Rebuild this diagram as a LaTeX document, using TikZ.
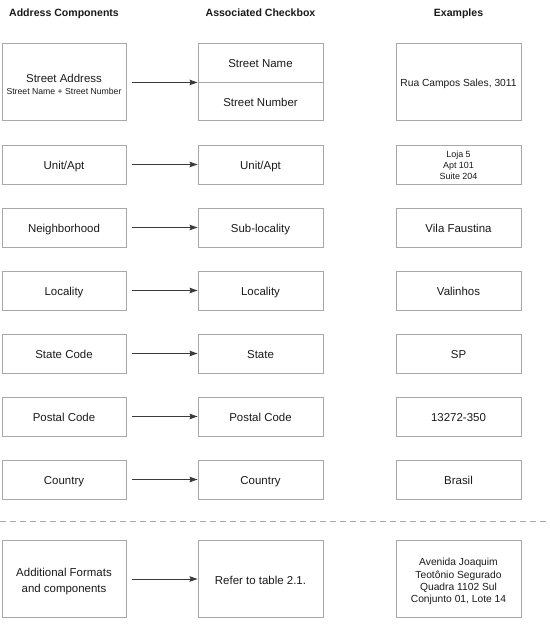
\documentclass[tikz,border=0pt]{standalone}
\usepackage{fontspec}
\setmainfont{Liberation Sans}
\usetikzlibrary{arrows.meta}
\definecolor{boxline}{HTML}{A8A8A8}
\definecolor{txt}{HTML}{1A1A1A}
\definecolor{arr}{HTML}{3A3A3A}
\begin{document}
\begin{tikzpicture}[x=1bp,y=-1bp,
  box/.style={draw=boxline,line width=0.9bp,rectangle,inner sep=0pt,align=center,text=txt,
    font=\fontsize{11.5}{15.5}\selectfont},
  c1/.style={box,minimum width=124bp},
  c2/.style={box,minimum width=125bp},
  c3/.style={box,minimum width=125bp},
  tall/.style={minimum height=77bp},
  short/.style={minimum height=39bp},
  one/.style={text height=10.2bp,text depth=0bp},
  hdr/.style={font=\fontsize{10.6}{12}\selectfont\bfseries,text=txt,inner sep=0pt,text height=7.6bp,text depth=0bp},
  conn/.style={draw=arr,line width=1bp,shorten <=6bp,-{Stealth[length=8bp,width=5.5bp,inset=1bp]}},
  small/.style={font=\fontsize{9}{10.8}\selectfont},
  ex/.style={font=\fontsize{10.3}{12.2}\selectfont}
]
\useasboundingbox (0,0) rectangle (550,626);
% headers
\node[hdr] (h1) at (64,12.3) {Address Components};
\node[hdr] (h2) at (260.5,12.3) {Associated Checkbox};
\node[hdr] (h3) at (458.5,12.3) {Examples};
% row 1
\node[c1,tall,text height=26bp] (sa) at (64,81.5) {Street Address\\[-3bp]{\fontsize{8.7}{10}\selectfont Street Name + Street Number}};
\node[c2,one,minimum height=39bp] (sn) at (260.5,62.5) {Street Name};
\node[c2,one,minimum height=38bp] (snum) at (260.5,101) {Street Number};
\node[c3,one,tall,ex] (e1) at (458.5,81.5) {Rua Campos Sales, 3011};
\draw[conn] (sa.east |- sn.south west) -- (sn.south west);
% rows 2-7
\node[c1,one,short] (a2) at (64,164.5) {Unit/Apt};
\node[c2,one,short] (b2) at (260.5,164.5) {Unit/Apt};
\node[c3,short,small,text height=30bp] (e2) at (458.5,164.5) {Loja 5\\Apt 101\\Suite 204};
\node[c1,one,short] (a3) at (64,227.5) {Neighborhood};
\node[c2,one,short] (b3) at (260.5,227.5) {Sub-locality};
\node[c3,one,short] (e3) at (458.5,227.5) {Vila Faustina};
\node[c1,one,short] (a4) at (64,290.5) {Locality};
\node[c2,one,short] (b4) at (260.5,290.5) {Locality};
\node[c3,one,short] (e4) at (458.5,290.5) {Valinhos};
\node[c1,one,short] (a5) at (64,353.5) {State Code};
\node[c2,one,short] (b5) at (260.5,353.5) {State};
\node[c3,one,short] (e5) at (458.5,353.5) {SP};
\node[c1,one,short] (a6) at (64,416.5) {Postal Code};
\node[c2,one,short] (b6) at (260.5,416.5) {Postal Code};
\node[c3,one,short] (e6) at (458.5,416.5) {13272-350};
\node[c1,one,short] (a7) at (64,479.5) {Country};
\node[c2,one,short] (b7) at (260.5,479.5) {Country};
\node[c3,one,short] (e7) at (458.5,479.5) {Brasil};
\foreach \i in {2,...,7} {\draw[conn] (a\i) -- (b\i);}
% separator
\coordinate (dl) at (0,521.5);
\coordinate (dr) at (550,521.5);
\draw[draw=boxline,line width=0.9bp,dash pattern=on 6bp off 4bp] (dl) -- (dr);
% row 8
\node[c1,tall,text height=29bp] (a8) at (64,579) {Additional Formats\\and components};
\node[c2,one,tall] (b8) at (260.5,579) {Refer to table 2.1.};
\node[c3,tall,ex,text height=49bp] (e8) at (458.5,579) {Avenida Joaquim\\Teotônio Segurado\\Quadra 1102 Sul\\Conjunto 01, Lote 14};
\draw[conn] (a8) -- (b8);
\end{tikzpicture}
\end{document}
